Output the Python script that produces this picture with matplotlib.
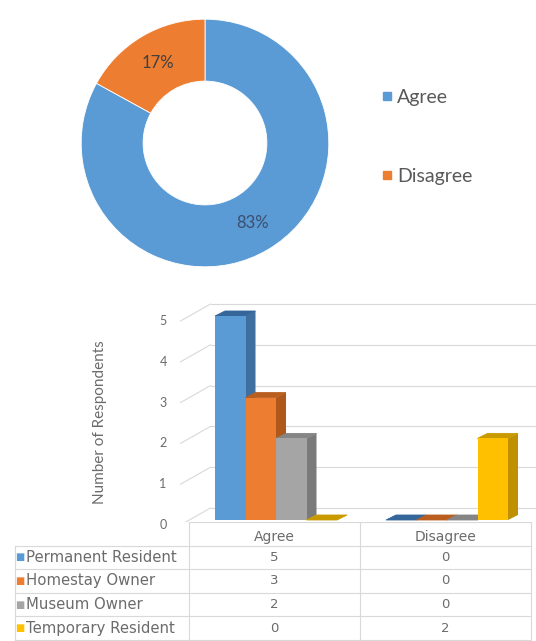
import numpy as np
import matplotlib.pyplot as plt
from matplotlib.patches import Polygon
from matplotlib.lines import Line2D

plt.rcParams['font.family'] = ['Lato', 'DejaVu Sans']

# ---- data ----
pie_labels = ["Agree", "Disagree"]
pie_values = [83, 17]
pie_colors = ["#5B9BD5", "#ED7D31"]

categories = ["Agree", "Disagree"]
groups = ["Permanent Resident", "Homestay Owner", "Museum Owner", "Temporary Resident"]
permanent = [5, 0]
homestay = [3, 0]
museum = [2, 0]
temporary = [0, 2]
yticks = [0, 1, 2, 3, 4, 5]

front_cols = ["#5B9BD5", "#ED7D31", "#A5A5A5", "#FFC000"]
side_cols = ["#3E6F9E", "#B0571B", "#7A7A7A", "#BF9000"]
top_cols = ["#34669A", "#BA5E20", "#858585", "#C99A00"]
TXT = "#6B6B6B"
GRID = "#D9D9D9"

W, H = 536, 641
fig = plt.figure(figsize=(W / 100, H / 100), dpi=100)


def px_axes(x0, y0, x1, y1):
    # axes from pixel box (top-left origin)
    return fig.add_axes([x0 / W, 1 - y1 / H, (x1 - x0) / W, (y1 - y0) / H])


# ---- donut ----
axp = px_axes(75, 13, 335, 273)
wedges, _, autotexts = axp.pie(
    pie_values, colors=pie_colors, startangle=90, counterclock=False,
    radius=1, autopct=lambda p: f"{p:.0f}%", pctdistance=0.75,
    wedgeprops=dict(width=0.5, edgecolor="white", linewidth=0.6),
    textprops=dict(fontsize=12, color="#404040"))
autotexts[0].set_color("#3B4F6E")
axp.set_xlim(-1.05, 1.05)
axp.set_ylim(-1.05, 1.05)

handles = [Line2D([], [], marker="s", linestyle="", markersize=5.5,
                  markerfacecolor=c, markeredgecolor=c) for c in pie_colors]
fig.legend(handles, pie_labels, loc="upper left",
           bbox_to_anchor=(371 / W, 1 - 79 / H), frameon=False,
           fontsize=14, labelcolor="#595959", handlelength=0.6,
           handletextpad=0.25, labelspacing=3.2, borderpad=0)

# ---- 3D-looking column chart ----
CX0, CW = 274, 171       # category 0 centre px, px per category
PXY = 40.8               # px per respondent
x_lo, x_hi = (0 - CX0) / CW, (W - CX0) / CW

axb = px_axes(0, 285, W, 522)
axb.set_xlim(x_lo, x_hi)
axb.set_ylim((520 - 522) / PXY, (520 - 285) / PXY)
axb.axis("off")

dx, dy = 10 / CW, 5 / PXY          # bar depth
bx, by = 30 / CW, 12 / PXY         # wall depth
lab_dy = -5 / PXY

# side wall + back wall gridlines
wall_x = -0.5 - 8 / CW
for v in yticks:
    axb.plot([wall_x, wall_x + bx], [v + lab_dy, v + by],
             color=GRID, lw=0.8, zorder=1)
    axb.plot([wall_x + bx, x_hi], [v + by, v + by],
             color=GRID, lw=0.8, zorder=1)
    axb.text((163 - CX0) / CW, v + lab_dy, str(v), ha="center", va="center",
             fontsize=9, color=TXT)

axb.text((100 - CX0) / CW, 2.4, "Number of Respondents", rotation=90,
         ha="center", va="center", fontsize=11, color=TXT)

series = [permanent, homestay, museum, temporary]
bw = 30.5 / CW
z = 2
for ci in range(len(categories)):
    for si, vals in enumerate(series):
        v = vals[ci]
        x0 = ci + (si - 2) * bw + 2 / CW
        x1 = x0 + bw
        side = [(x1, 0), (x1 + dx, dy), (x1 + dx, v + dy), (x1, v)]
        top = [(x0, v), (x1, v), (x1 + dx, v + dy), (x0 + dx, v + dy)]
        axb.add_patch(Polygon(side, closed=True, facecolor=side_cols[si],
                              edgecolor="none", zorder=z))
        axb.add_patch(Polygon(top, closed=True, facecolor=top_cols[si],
                              edgecolor=top_cols[si], lw=0.6, zorder=z))
        if v > 0:
            axb.bar(x0, v, width=bw, align="edge", color=front_cols[si],
                    zorder=z + 0.5)
        z += 1

# ---- data table ----
axt = px_axes(0, 522, W, H)
row_h = 23.6
axt.set_xlim(x_lo, x_hi)
axt.set_ylim((H - 522) / row_h, 0)
axt.axis("off")

left = (15 - CX0) / CW
right = 1.5
n_rows = len(groups)
for r in range(1, n_rows + 2):
    axt.plot([left, right], [r, r], color=GRID, lw=0.8)
axt.plot([-0.5, right], [0, 0], color=GRID, lw=0.8)
axt.plot([left, left], [1, n_rows + 1], color=GRID, lw=0.8)
for xv in [-0.5, 0.5, 1.5]:
    axt.plot([xv, xv], [0, n_rows + 1], color=GRID, lw=0.8)

tfont = "DejaVu Sans"
for ci, c in enumerate(categories):
    axt.text(ci, 0.65, c, ha="center", va="center", fontsize=10,
             color=TXT, family=tfont)
for si, g in enumerate(groups):
    y = si + 1.5
    axt.text((20 - CX0) / CW, y, "\u25A0", ha="center", va="center",
             fontsize=7, color=front_cols[si], family=tfont)
    axt.text((26 - CX0) / CW, y, g, ha="left", va="center", fontsize=10.7,
             color=TXT, family=tfont)
    for ci in range(len(categories)):
        axt.text(ci, y, str(series[si][ci]), ha="center", va="center",
                 fontsize=9.5, color=TXT, family=tfont)

fig.savefig("out.png", dpi=100)
